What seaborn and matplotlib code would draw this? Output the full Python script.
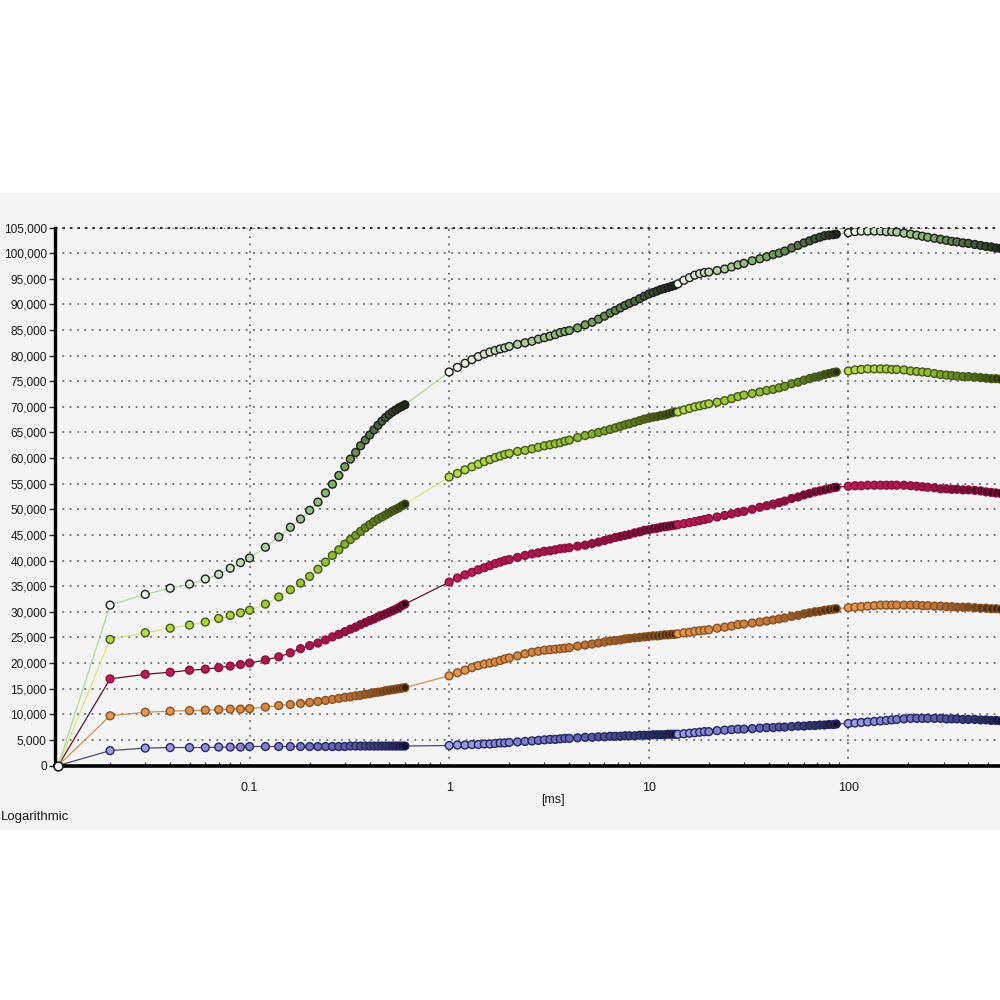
import numpy as np
import matplotlib
matplotlib.use("Agg")
import matplotlib.pyplot as plt
from matplotlib.colors import LinearSegmentedColormap
from matplotlib.patches import Rectangle
from matplotlib.ticker import FixedLocator, LogLocator, NullFormatter
import seaborn as sns

# ---------------- data (y in thousands) ----------------
ORIGIN_X = 0.011
ORIGIN_Y = 0.0

x_seg1 = [0.02, 0.03, 0.04, 0.05, 0.06, 0.07, 0.08, 0.09, 0.10,
          0.12, 0.14, 0.16, 0.18, 0.20, 0.22, 0.24, 0.26, 0.28, 0.30,
          0.32, 0.34, 0.36, 0.38, 0.40, 0.42, 0.44, 0.46, 0.48, 0.50,
          0.52, 0.54, 0.56, 0.58, 0.60]
x_seg2a = [1.0, 1.1, 1.2, 1.3, 1.4, 1.5, 1.6, 1.7, 1.8, 1.9, 2.0,
           2.2, 2.4, 2.6, 2.8, 3.0, 3.2, 3.4, 3.6, 3.8, 4.0,
           4.4, 4.8, 5.2, 5.6, 6.0, 6.4, 6.8, 7.2, 7.6, 8.0,
           8.5, 9.0, 9.5, 10.0, 10.5, 11.0, 11.5, 12.0, 12.5, 13.0, 13.5]
x_seg2b = [14, 15, 16, 17, 18, 19, 20, 22, 24, 26, 28, 30, 33, 36, 39, 42,
           45, 48, 52, 56, 60, 64, 68, 72, 76, 80, 84, 87]
x_seg3 = [100, 108, 116, 125, 135, 145, 155, 165, 175, 190, 205, 220, 235,
          250, 270, 290, 310, 330, 350, 375, 400, 430, 460, 490, 520, 550, 580]

# series 1 (dark green, top)
s1_seg1 = [31.3, 33.4, 34.6, 35.4, 36.4, 37.3, 38.5, 39.6, 40.5,
           42.6, 44.6, 46.5, 48.1, 49.8, 51.4, 53.2, 54.9, 56.6, 58.3,
           59.8, 61.1, 62.4, 63.5, 64.5, 65.5, 66.4, 67.2, 67.9, 68.5,
           69.0, 69.4, 69.8, 70.1, 70.4]
s1_seg2a = [76.8, 77.7, 78.5, 79.2, 79.8, 80.3, 80.7, 81.0, 81.3, 81.5, 81.8,
            82.2, 82.5, 82.8, 83.2, 83.5, 83.8, 84.1, 84.5, 84.7, 84.9,
            85.4, 86.0, 86.5, 87.1, 87.7, 88.3, 88.8, 89.3, 89.8, 90.2,
            90.6, 91.1, 91.6, 92.0, 92.3, 92.6, 92.9, 93.1, 93.3, 93.5, 93.7]
s1_seg2b = [94.0, 94.7, 95.2, 95.7, 96.0, 96.2, 96.3, 96.6, 96.9, 97.3, 97.7,
            98.0, 98.5, 98.9, 99.3, 99.7, 100.0, 100.4, 101.0, 101.5, 102.0,
            102.4, 102.8, 103.1, 103.4, 103.5, 103.6, 103.7]
s1_seg3 = [104.0, 104.2, 104.3, 104.3, 104.3, 104.3, 104.2, 104.2, 104.1,
           103.9, 103.7, 103.5, 103.3, 103.1, 102.9, 102.7, 102.5, 102.3,
           102.2, 102.0, 101.9, 101.7, 101.5, 101.3, 101.2, 101.0, 100.9]

# series 2 (lime)
s2_seg1 = [24.6, 25.9, 26.8, 27.4, 28.0, 28.7, 29.3, 29.8, 30.3,
           31.5, 32.9, 34.3, 35.6, 36.9, 38.3, 39.7, 41.0, 42.1, 43.2,
           44.1, 44.9, 45.7, 46.4, 47.0, 47.6, 48.1, 48.5, 48.9, 49.3,
           49.7, 50.0, 50.3, 50.7, 51.0]
s2_seg2a = [56.3, 57.0, 57.7, 58.3, 58.8, 59.3, 59.7, 60.1, 60.4, 60.7, 60.9,
            61.3, 61.5, 61.8, 62.1, 62.4, 62.6, 62.8, 63.0, 63.3, 63.5,
            64.0, 64.4, 64.7, 65.0, 65.3, 65.6, 65.9, 66.2, 66.5, 66.7,
            67.0, 67.3, 67.6, 67.8, 68.0, 68.1, 68.3, 68.4, 68.6, 68.8, 69.0]
s2_seg2b = [69.0, 69.4, 69.7, 70.0, 70.2, 70.4, 70.6, 70.9, 71.2, 71.6, 72.0,
            72.3, 72.6, 72.9, 73.2, 73.4, 73.7, 74.0, 74.5, 74.8, 75.2,
            75.5, 75.8, 76.0, 76.3, 76.5, 76.7, 76.8]
s2_seg3 = [77.0, 77.2, 77.3, 77.4, 77.4, 77.4, 77.4, 77.3, 77.3,
           77.2, 77.0, 76.9, 76.8, 76.7, 76.5, 76.3, 76.2, 76.1,
           76.0, 75.9, 75.9, 75.8, 75.7, 75.6, 75.5, 75.5, 75.4]

# series 3 (crimson)
s3_seg1 = [16.9, 17.8, 18.2, 18.6, 18.8, 19.1, 19.4, 19.7, 20.0,
           20.6, 21.2, 22.0, 22.8, 23.4, 23.9, 24.5, 25.1, 25.6, 26.1,
           26.6, 27.0, 27.5, 27.9, 28.3, 28.6, 29.0, 29.3, 29.6, 29.9,
           30.2, 30.5, 30.8, 31.2, 31.5]
s3_seg2a = [35.8, 36.6, 37.2, 37.7, 38.2, 38.6, 39.0, 39.4, 39.7, 40.0, 40.2,
            40.6, 41.0, 41.3, 41.5, 41.8, 41.9, 42.1, 42.3, 42.4, 42.5,
            42.8, 43.0, 43.3, 43.6, 43.9, 44.2, 44.5, 44.7, 44.9, 45.1,
            45.4, 45.6, 45.9, 46.0, 46.2, 46.3, 46.5, 46.6, 46.7, 46.8, 46.9]
s3_seg2b = [47.0, 47.2, 47.4, 47.6, 47.8, 48.0, 48.2, 48.5, 48.8, 49.1, 49.4,
            49.6, 50.0, 50.4, 50.7, 51.0, 51.3, 51.6, 52.1, 52.4, 52.8,
            53.1, 53.4, 53.6, 53.8, 54.0, 54.2, 54.3]
s3_seg3 = [54.5, 54.6, 54.6, 54.7, 54.7, 54.7, 54.7, 54.7, 54.7,
           54.7, 54.6, 54.5, 54.4, 54.3, 54.2, 54.0, 54.0, 53.9,
           53.9, 53.8, 53.8, 53.7, 53.6, 53.4, 53.3, 53.2, 53.1]

# series 4 (orange)
s4_seg1 = [9.7, 10.4, 10.6, 10.7, 10.8, 10.9, 11.0, 11.0, 11.1,
           11.4, 11.7, 11.9, 12.1, 12.3, 12.5, 12.7, 12.9, 13.1, 13.3,
           13.4, 13.6, 13.7, 13.9, 14.0, 14.2, 14.3, 14.4, 14.6, 14.7,
           14.8, 14.9, 15.0, 15.1, 15.2]
s4_seg2a = [17.5, 18.1, 18.6, 19.1, 19.5, 19.8, 20.0, 20.2, 20.5, 20.8, 21.0,
            21.4, 21.8, 22.1, 22.3, 22.5, 22.6, 22.7, 22.8, 22.9, 23.0,
            23.3, 23.5, 23.7, 23.9, 24.1, 24.3, 24.4, 24.5, 24.7, 24.8,
            24.9, 25.0, 25.1, 25.2, 25.3, 25.3, 25.4, 25.5, 25.5, 25.6, 25.6]
s4_seg2b = [25.7, 25.9, 26.0, 26.2, 26.3, 26.4, 26.5, 26.8, 27.0, 27.2, 27.5,
            27.6, 27.8, 28.0, 28.2, 28.4, 28.6, 28.8, 29.1, 29.3, 29.6,
            29.8, 30.0, 30.1, 30.3, 30.4, 30.5, 30.6]
s4_seg3 = [30.8, 30.9, 31.0, 31.1, 31.2, 31.3, 31.3, 31.3, 31.3,
           31.3, 31.3, 31.3, 31.2, 31.2, 31.1, 31.1, 31.0, 31.0,
           30.9, 30.9, 30.9, 30.8, 30.7, 30.7, 30.6, 30.6, 30.5]

# series 5 (blue)
s5_seg1 = [2.9, 3.4, 3.5, 3.5, 3.5, 3.6, 3.6, 3.6, 3.7,
           3.7, 3.7, 3.7, 3.7, 3.7, 3.7, 3.7, 3.7, 3.7, 3.7,
           3.8, 3.8, 3.8, 3.8, 3.8, 3.8, 3.8, 3.8, 3.8, 3.8,
           3.8, 3.8, 3.8, 3.8, 3.8]
s5_seg2a = [3.9, 4.0, 4.0, 4.1, 4.1, 4.2, 4.2, 4.3, 4.4, 4.4, 4.5,
            4.6, 4.7, 4.8, 4.9, 5.0, 5.1, 5.1, 5.2, 5.3, 5.3,
            5.4, 5.5, 5.5, 5.6, 5.6, 5.7, 5.7, 5.7, 5.8, 5.8,
            5.8, 5.9, 5.9, 5.9, 6.0, 6.0, 6.0, 6.0, 6.1, 6.1, 6.1]
s5_seg2b = [6.1, 6.2, 6.3, 6.4, 6.5, 6.6, 6.6, 6.8, 6.9, 7.0, 7.1,
            7.1, 7.2, 7.3, 7.4, 7.4, 7.5, 7.5, 7.6, 7.7, 7.7,
            7.8, 7.8, 7.9, 7.9, 8.0, 8.0, 8.1]
s5_seg3 = [8.2, 8.3, 8.4, 8.5, 8.6, 8.7, 8.8, 8.9, 9.0,
           9.1, 9.2, 9.2, 9.2, 9.2, 9.2, 9.2, 9.1, 9.1,
           9.1, 9.0, 9.0, 9.0, 8.9, 8.9, 8.8, 8.8, 8.7]

y_ticks = list(range(0, 106, 5))
x_ticks = [0.1, 1, 10, 100]
x_tick_labels = ["0.1", "1", "10", "100"]

# ---------------- styles ----------------
series = [
    dict(segs=[s5_seg1, s5_seg2a, s5_seg2b, s5_seg3], line="#4a4a6a",
         grad=["#a0a0e6", "#6464b4", "#141432"], edge="#262660"),
    dict(segs=[s4_seg1, s4_seg2a, s4_seg2b, s4_seg3], line="#d09050",
         grad=["#e39a55", "#c87a3e", "#35200e"], edge="#8a5020"),
    dict(segs=[s3_seg1, s3_seg2a, s3_seg2b, s3_seg3], line="#5a1428",
         grad=["#b81e52", "#a01545", "#350916"], edge="#8a1040"),
    dict(segs=[s2_seg1, s2_seg2a, s2_seg2b, s2_seg3], line="#dce47a",
         grad=["#b8de48", "#8fbf30", "#26300e"], edge="#46561a"),
    dict(segs=[s1_seg1, s1_seg2a, s1_seg2b, s1_seg3], line="#b4d6a0",
         grad=["#f4f6f0", "#7fae63", "#1c2616"], edge="#1e1e1e"),
]
x_segs = [x_seg1, x_seg2a, x_seg2b, x_seg3]

sns.set_theme(style="white")
plt.rcParams["font.family"] = ["Liberation Sans", "DejaVu Sans"]

fig = plt.figure(figsize=(10, 10), dpi=100)
fig.patch.set_facecolor("white")
fig.patches.append(Rectangle((0, 0.170), 1, 0.637, transform=fig.transFigure,
                             facecolor="#f4f4f4", edgecolor="none", zorder=-10))

ax = fig.add_axes([0.055, 0.2345, 0.945, 0.538])
ax.set_facecolor("none")
ax.set_xscale("log")

for sr in series:
    xs = [ORIGIN_X] + [v for seg in x_segs for v in seg]
    ys = [ORIGIN_Y] + [v for seg in sr["segs"] for v in seg]
    sns.lineplot(x=xs, y=ys, sort=False, estimator=None, color=sr["line"],
                 linewidth=0.9, ax=ax, zorder=2)
    cmap = LinearSegmentedColormap.from_list("g", sr["grad"])
    for xseg, yseg in zip(x_segs, sr["segs"]):
        frac = np.linspace(0, 1, len(xseg))
        sns.scatterplot(x=xseg, y=yseg, hue=frac, palette=cmap, hue_norm=(0, 1),
                        s=32, edgecolor=sr["edge"], linewidth=1.0, legend=False,
                        ax=ax, zorder=3)

sns.scatterplot(x=[ORIGIN_X], y=[ORIGIN_Y], color="white", edgecolor="#222222",
                s=40, linewidth=1.2, ax=ax, zorder=5, legend=False, clip_on=False)

ax.set_xlim(10 ** (-1.975), 10 ** 2.76)
ax.set_ylim(0, 105)

ax.set_yticks(y_ticks)
ax.set_yticklabels([f"{v * 1000:,}" for v in y_ticks], fontsize=8.6, color="#1a1a1a")
ax.xaxis.set_major_locator(FixedLocator(x_ticks))
ax.set_xticklabels(x_tick_labels, fontsize=9, color="#1a1a1a")
ax.xaxis.set_minor_locator(LogLocator(base=10, subs=np.arange(2, 10)))
ax.xaxis.set_minor_formatter(NullFormatter())

ax.tick_params(axis="y", which="major", direction="out", length=4, width=1,
               color="#222222", pad=2, left=True)
ax.tick_params(axis="x", which="major", direction="in", length=0, pad=12, bottom=True)
ax.tick_params(axis="x", which="minor", direction="in", length=3, width=0.8,
               color="#333333", bottom=True)

ax.grid(True, which="major", axis="both", color="#555555",
        linestyle=(0, (1.2, 3.6)), linewidth=1.1)
ax.axhline(105, color="#333333", linestyle=(0, (1.2, 2.4)), linewidth=1.5,
           clip_on=False, zorder=1)

for s in ["top", "right"]:
    ax.spines[s].set_visible(False)
ax.spines["left"].set_linewidth(2.4)
ax.spines["left"].set_color("black")
ax.spines["bottom"].set_linewidth(2.6)
ax.spines["bottom"].set_color("black")

ax.set_xlabel("")
ax.set_ylabel("")
fig.text(0.553, 0.200, "[ms]", ha="center", va="center", fontsize=9, color="#1a1a1a")
fig.text(0.001, 0.183, "Logarithmic", ha="left", va="center", fontsize=9.5,
         color="#1a1a1a")

fig.savefig("out.png", dpi=100)
